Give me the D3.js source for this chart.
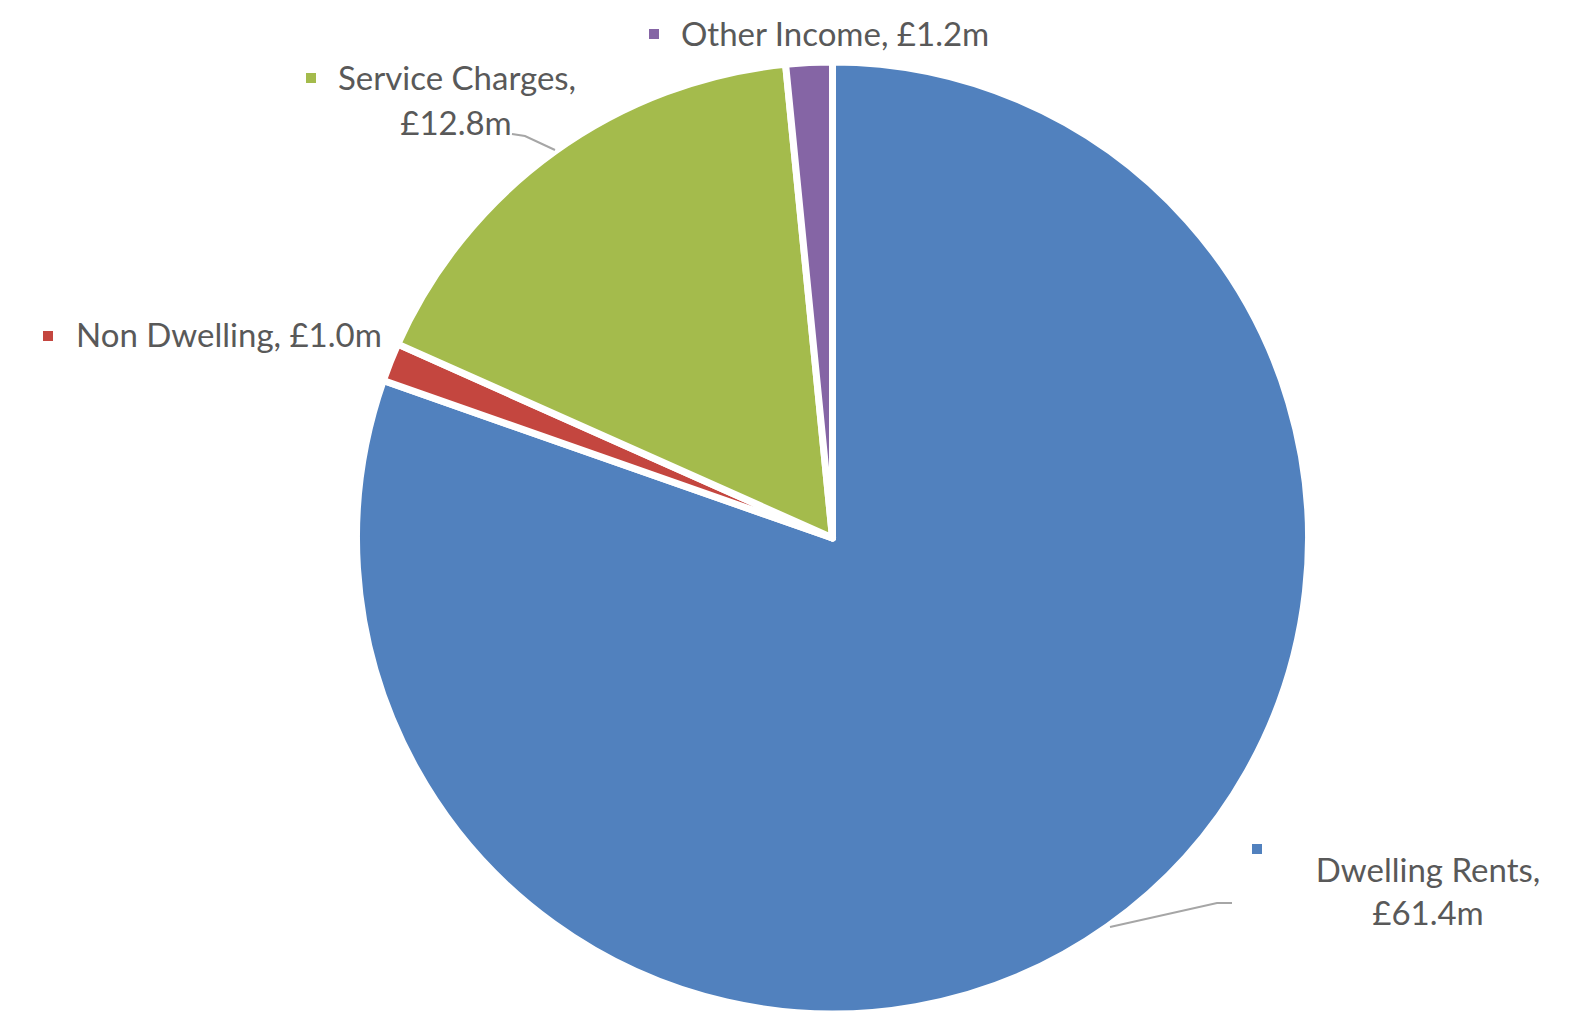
<!DOCTYPE html>
<html>
<head>
<meta charset="utf-8">
<script src="https://cdn.jsdelivr.net/npm/d3@7"></script>
<style>
  body { margin: 0; background: #fff; }
  text { font-family: Lato, "Open Sans", sans-serif; fill: #595959; }
</style>
</head>
<body>
<div id="chart"></div>
<script>
var w = 1572,
    h = 1033,
    cx = 832.5,
    cy = 538,
    r = 476;

var categories = ["Dwelling Rents", "Non Dwelling", "Service Charges", "Other Income"];
var values = [61.4, 1.0, 12.8, 1.2];
var colors = ["#5181BE", "#C4463F", "#A4BB4C", "#8565A5"];

// label boxes (lines of text, marker spot, leader line)
var labelLayout = [
  {lines: [[1428, 882], [1428, 925]], anchor: "middle", marker: [1257, 849],
   leader: [[1110, 927], [1217, 903], [1232, 903]]},
  {lines: [[76, 347]], anchor: "start", marker: [48, 336], leader: null},
  {lines: [[338, 90], [456, 135]], anchor: "start", marker: [311, 78],
   leader: [[512, 134], [525, 136], [555, 150]]},
  {lines: [[681, 46]], anchor: "start", marker: [654, 34], leader: null}
];

var data = categories.map(function(c, i) {
  return {name: c, value: values[i], color: colors[i]};
});

var svg = d3.select("#chart").append("svg")
    .attr("width", w)
    .attr("height", h);

var pie = d3.pie()
    .sort(null)
    .value(function(d) { return d.value; });

var arc = d3.arc().innerRadius(0).outerRadius(r);

var g = svg.append("g").attr("transform", "translate(" + cx + "," + cy + ")");

g.selectAll("path")
    .data(pie(data))
  .enter().append("path")
    .attr("d", arc)
    .attr("fill", function(d) { return d.data.color; })
    .attr("stroke", "#fff")
    .attr("stroke-width", 7)
    .attr("stroke-linejoin", "round");

var fmt = function(v) { return "\u00a3" + v.toFixed(1) + "m"; };

data.forEach(function(d, i) {
  var lay = labelLayout[i];
  if (lay.leader) {
    svg.append("path")
      .attr("d", "M" + lay.leader.join("L"))
      .attr("fill", "none")
      .attr("stroke", "#a6a6a6")
      .attr("stroke-width", 2);
  }
  svg.append("rect")
    .attr("x", lay.marker[0] - 5)
    .attr("y", lay.marker[1] - 5)
    .attr("width", 10)
    .attr("height", 10)
    .attr("fill", d.color);
  var texts = lay.lines.length == 2
    ? [d.name + ",", fmt(d.value)]
    : [d.name + ", " + fmt(d.value)];
  texts.forEach(function(t, j) {
    var p = lay.lines[j];
    svg.append("text")
      .attr("x", p[0])
      .attr("y", p[1])
      .attr("text-anchor", lay.anchor == "middle" || j == 1 ? "middle" : "start")
      .attr("font-size", 33)
      .text(t);
  });
});
</script>
</body>
</html>
